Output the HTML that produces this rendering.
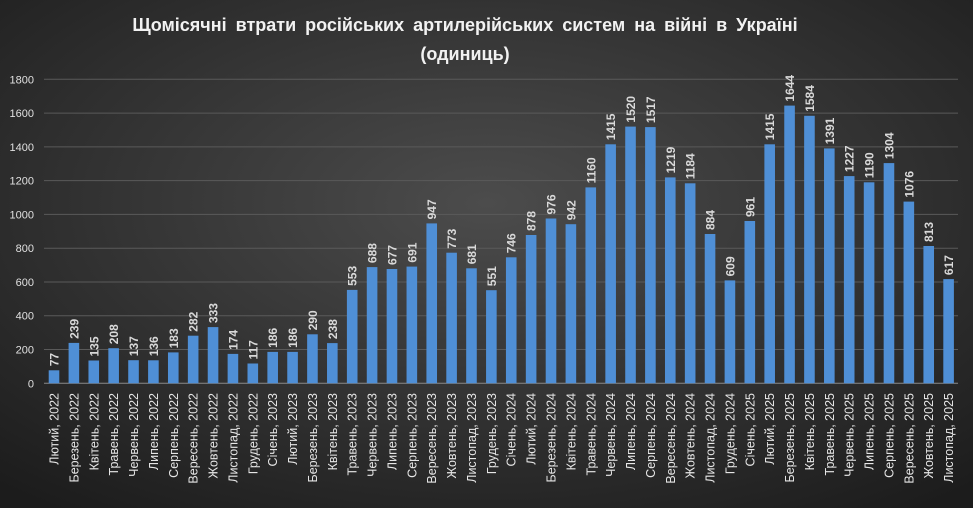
<!DOCTYPE html>
<html><head><meta charset="utf-8">
<style>
html,body{margin:0;padding:0;background:#2a2a2a;}
svg{display:block;font-family:"Liberation Sans","DejaVu Sans",sans-serif;}
</style></head>
<body>
<svg width="973" height="508" viewBox="0 0 973 508" xmlns="http://www.w3.org/2000/svg">
<defs>
<radialGradient id="bg" cx="0.5" cy="0.4" r="0.75">
<stop offset="0" stop-color="#4c4c4c"/>
<stop offset="1" stop-color="#1c1c1c"/>
</radialGradient>
<linearGradient id="bargr" x1="0" y1="0" x2="0" y2="1">
<stop offset="0" stop-color="#7eb1e4"/>
<stop offset="1" stop-color="#3f82cf"/>
</linearGradient>
</defs>
<rect width="973" height="508" fill="url(#bg)"/>
<text x="465" y="31" text-anchor="middle" fill="#f2f2f2" font-size="18" font-weight="bold" word-spacing="4">Щомісячні втрати російських артилерійських систем на війні в Україні</text>
<text x="465" y="60" text-anchor="middle" fill="#f2f2f2" font-size="18" font-weight="bold">(одиниць)</text>
<g stroke="#5a5a5a" stroke-width="1">
<line x1="44" x2="958" y1="79.3" y2="79.3"/>
<line x1="44" x2="958" y1="113.1" y2="113.1"/>
<line x1="44" x2="958" y1="146.9" y2="146.9"/>
<line x1="44" x2="958" y1="180.6" y2="180.6"/>
<line x1="44" x2="958" y1="214.4" y2="214.4"/>
<line x1="44" x2="958" y1="248.2" y2="248.2"/>
<line x1="44" x2="958" y1="282.0" y2="282.0"/>
<line x1="44" x2="958" y1="315.7" y2="315.7"/>
<line x1="44" x2="958" y1="349.5" y2="349.5"/>
</g>
<line x1="44" x2="958" y1="383.3" y2="383.3" stroke="#8a8a8a" stroke-width="1"/>
<g fill="#e0e0e0" font-size="11" text-anchor="end">
<text x="34" y="83.3">1800</text>
<text x="34" y="117.1">1600</text>
<text x="34" y="150.9">1400</text>
<text x="34" y="184.6">1200</text>
<text x="34" y="218.4">1000</text>
<text x="34" y="252.2">800</text>
<text x="34" y="286.0">600</text>
<text x="34" y="319.7">400</text>
<text x="34" y="353.5">200</text>
<text x="34" y="387.3">0</text>
</g>
<g fill="#4f8fd6">
<rect x="48.7" y="370.3" width="10.6" height="13.0"/>
<rect x="68.58" y="342.9" width="10.6" height="40.4"/>
<rect x="88.46" y="360.5" width="10.6" height="22.8"/>
<rect x="108.34" y="348.2" width="10.6" height="35.1"/>
<rect x="128.22" y="360.2" width="10.6" height="23.1"/>
<rect x="148.1" y="360.3" width="10.6" height="23.0"/>
<rect x="167.98" y="352.4" width="10.6" height="30.9"/>
<rect x="187.86" y="335.7" width="10.6" height="47.6"/>
<rect x="207.74" y="327.1" width="10.6" height="56.2"/>
<rect x="227.62" y="353.9" width="10.6" height="29.4"/>
<rect x="247.5" y="363.5" width="10.6" height="19.8"/>
<rect x="267.38" y="351.9" width="10.6" height="31.4"/>
<rect x="287.26" y="351.9" width="10.6" height="31.4"/>
<rect x="307.14" y="334.3" width="10.6" height="49.0"/>
<rect x="327.02" y="343.1" width="10.6" height="40.2"/>
<rect x="346.9" y="289.9" width="10.6" height="93.4"/>
<rect x="366.78" y="267.1" width="10.6" height="116.2"/>
<rect x="386.66" y="269.0" width="10.6" height="114.3"/>
<rect x="406.54" y="266.6" width="10.6" height="116.7"/>
<rect x="426.42" y="223.4" width="10.6" height="159.9"/>
<rect x="446.3" y="252.7" width="10.6" height="130.6"/>
<rect x="466.18" y="268.3" width="10.6" height="115.0"/>
<rect x="486.06" y="290.2" width="10.6" height="93.1"/>
<rect x="505.94" y="257.3" width="10.6" height="126.0"/>
<rect x="525.82" y="235.0" width="10.6" height="148.3"/>
<rect x="545.7" y="218.5" width="10.6" height="164.8"/>
<rect x="565.58" y="224.2" width="10.6" height="159.1"/>
<rect x="585.46" y="187.4" width="10.6" height="195.9"/>
<rect x="605.34" y="144.3" width="10.6" height="239.0"/>
<rect x="625.22" y="126.6" width="10.6" height="256.7"/>
<rect x="645.1" y="127.1" width="10.6" height="256.2"/>
<rect x="664.98" y="177.4" width="10.6" height="205.9"/>
<rect x="684.86" y="183.3" width="10.6" height="200.0"/>
<rect x="704.74" y="234.0" width="10.6" height="149.3"/>
<rect x="724.62" y="280.4" width="10.6" height="102.9"/>
<rect x="744.5" y="221.0" width="10.6" height="162.3"/>
<rect x="764.38" y="144.3" width="10.6" height="239.0"/>
<rect x="784.26" y="105.6" width="10.6" height="277.7"/>
<rect x="804.14" y="115.8" width="10.6" height="267.5"/>
<rect x="824.02" y="148.4" width="10.6" height="234.9"/>
<rect x="843.9" y="176.1" width="10.6" height="207.2"/>
<rect x="863.78" y="182.3" width="10.6" height="201.0"/>
<rect x="883.66" y="163.1" width="10.6" height="220.2"/>
<rect x="903.54" y="201.6" width="10.6" height="181.7"/>
<rect x="923.42" y="246.0" width="10.6" height="137.3"/>
<rect x="943.3" y="279.1" width="10.6" height="104.2"/>
</g>
<g fill="#d9d9d9" font-size="12" font-weight="bold">
<text transform="translate(58.5,366.3) rotate(-90)">77</text>
<text transform="translate(78.38,338.9) rotate(-90)">239</text>
<text transform="translate(98.26,356.5) rotate(-90)">135</text>
<text transform="translate(118.14,344.2) rotate(-90)">208</text>
<text transform="translate(138.02,356.2) rotate(-90)">137</text>
<text transform="translate(157.9,356.3) rotate(-90)">136</text>
<text transform="translate(177.78,348.4) rotate(-90)">183</text>
<text transform="translate(197.66,331.7) rotate(-90)">282</text>
<text transform="translate(217.54,323.1) rotate(-90)">333</text>
<text transform="translate(237.42,349.9) rotate(-90)">174</text>
<text transform="translate(257.3,359.5) rotate(-90)">117</text>
<text transform="translate(277.18,347.9) rotate(-90)">186</text>
<text transform="translate(297.06,347.9) rotate(-90)">186</text>
<text transform="translate(316.94,330.3) rotate(-90)">290</text>
<text transform="translate(336.82,339.1) rotate(-90)">238</text>
<text transform="translate(356.7,285.9) rotate(-90)">553</text>
<text transform="translate(376.58,263.1) rotate(-90)">688</text>
<text transform="translate(396.46,265.0) rotate(-90)">677</text>
<text transform="translate(416.34,262.6) rotate(-90)">691</text>
<text transform="translate(436.22,219.4) rotate(-90)">947</text>
<text transform="translate(456.1,248.7) rotate(-90)">773</text>
<text transform="translate(475.98,264.3) rotate(-90)">681</text>
<text transform="translate(495.86,286.2) rotate(-90)">551</text>
<text transform="translate(515.74,253.3) rotate(-90)">746</text>
<text transform="translate(535.62,231.0) rotate(-90)">878</text>
<text transform="translate(555.5,214.5) rotate(-90)">976</text>
<text transform="translate(575.38,220.2) rotate(-90)">942</text>
<text transform="translate(595.26,183.4) rotate(-90)">1160</text>
<text transform="translate(615.14,140.3) rotate(-90)">1415</text>
<text transform="translate(635.02,122.6) rotate(-90)">1520</text>
<text transform="translate(654.9,123.1) rotate(-90)">1517</text>
<text transform="translate(674.78,173.4) rotate(-90)">1219</text>
<text transform="translate(694.66,179.3) rotate(-90)">1184</text>
<text transform="translate(714.54,230.0) rotate(-90)">884</text>
<text transform="translate(734.42,276.4) rotate(-90)">609</text>
<text transform="translate(754.3,217.0) rotate(-90)">961</text>
<text transform="translate(774.18,140.3) rotate(-90)">1415</text>
<text transform="translate(794.06,101.6) rotate(-90)">1644</text>
<text transform="translate(813.94,111.8) rotate(-90)">1584</text>
<text transform="translate(833.82,144.4) rotate(-90)">1391</text>
<text transform="translate(853.7,172.1) rotate(-90)">1227</text>
<text transform="translate(873.58,178.3) rotate(-90)">1190</text>
<text transform="translate(893.46,159.1) rotate(-90)">1304</text>
<text transform="translate(913.34,197.6) rotate(-90)">1076</text>
<text transform="translate(933.22,242.0) rotate(-90)">813</text>
<text transform="translate(953.1,275.1) rotate(-90)">617</text>
</g>
<g fill="#e6e6e6" font-size="12.5" text-anchor="end">
<text transform="translate(58.5,393) rotate(-90)">Лютий, 2022</text>
<text transform="translate(78.38,393) rotate(-90)">Березень, 2022</text>
<text transform="translate(98.26,393) rotate(-90)">Квітень, 2022</text>
<text transform="translate(118.14,393) rotate(-90)">Травень, 2022</text>
<text transform="translate(138.02,393) rotate(-90)">Червень, 2022</text>
<text transform="translate(157.9,393) rotate(-90)">Липень, 2022</text>
<text transform="translate(177.78,393) rotate(-90)">Серпень, 2022</text>
<text transform="translate(197.66,393) rotate(-90)">Вересень, 2022</text>
<text transform="translate(217.54,393) rotate(-90)">Жовтень, 2022</text>
<text transform="translate(237.42,393) rotate(-90)">Листопад, 2022</text>
<text transform="translate(257.3,393) rotate(-90)">Грудень, 2022</text>
<text transform="translate(277.18,393) rotate(-90)">Січень, 2023</text>
<text transform="translate(297.06,393) rotate(-90)">Лютий, 2023</text>
<text transform="translate(316.94,393) rotate(-90)">Березень, 2023</text>
<text transform="translate(336.82,393) rotate(-90)">Квітень, 2023</text>
<text transform="translate(356.7,393) rotate(-90)">Травень, 2023</text>
<text transform="translate(376.58,393) rotate(-90)">Червень, 2023</text>
<text transform="translate(396.46,393) rotate(-90)">Липень, 2023</text>
<text transform="translate(416.34,393) rotate(-90)">Серпень, 2023</text>
<text transform="translate(436.22,393) rotate(-90)">Вересень, 2023</text>
<text transform="translate(456.1,393) rotate(-90)">Жовтень, 2023</text>
<text transform="translate(475.98,393) rotate(-90)">Листопад, 2023</text>
<text transform="translate(495.86,393) rotate(-90)">Грудень, 2023</text>
<text transform="translate(515.74,393) rotate(-90)">Січень, 2024</text>
<text transform="translate(535.62,393) rotate(-90)">Лютий, 2024</text>
<text transform="translate(555.5,393) rotate(-90)">Березень, 2024</text>
<text transform="translate(575.38,393) rotate(-90)">Квітень, 2024</text>
<text transform="translate(595.26,393) rotate(-90)">Травень, 2024</text>
<text transform="translate(615.14,393) rotate(-90)">Червень, 2024</text>
<text transform="translate(635.02,393) rotate(-90)">Липень, 2024</text>
<text transform="translate(654.9,393) rotate(-90)">Серпень, 2024</text>
<text transform="translate(674.78,393) rotate(-90)">Вересень, 2024</text>
<text transform="translate(694.66,393) rotate(-90)">Жовтень, 2024</text>
<text transform="translate(714.54,393) rotate(-90)">Листопад, 2024</text>
<text transform="translate(734.42,393) rotate(-90)">Грудень, 2024</text>
<text transform="translate(754.3,393) rotate(-90)">Січень, 2025</text>
<text transform="translate(774.18,393) rotate(-90)">Лютий, 2025</text>
<text transform="translate(794.06,393) rotate(-90)">Березень, 2025</text>
<text transform="translate(813.94,393) rotate(-90)">Квітень, 2025</text>
<text transform="translate(833.82,393) rotate(-90)">Травень, 2025</text>
<text transform="translate(853.7,393) rotate(-90)">Червень, 2025</text>
<text transform="translate(873.58,393) rotate(-90)">Липень, 2025</text>
<text transform="translate(893.46,393) rotate(-90)">Серпень, 2025</text>
<text transform="translate(913.34,393) rotate(-90)">Вересень, 2025</text>
<text transform="translate(933.22,393) rotate(-90)">Жовтень, 2025</text>
<text transform="translate(953.1,393) rotate(-90)">Листопад, 2025</text>
</g>
</svg>
</body></html>
